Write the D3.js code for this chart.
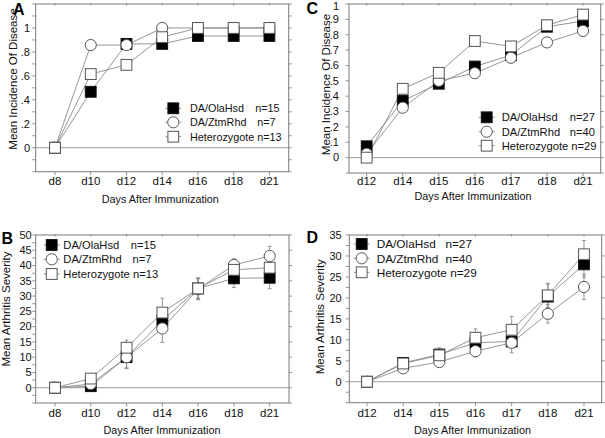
<!DOCTYPE html>
<html><head><meta charset="utf-8">
<script src="https://cdn.jsdelivr.net/npm/d3@7"></script>
<style>
html,body{margin:0;padding:0;background:#fff;}
svg{display:block;font-family:"Liberation Sans",Arial,Helvetica,sans-serif;}
</style></head>
<body>
<svg id="chart" width="605" height="438"></svg>
<script>
// ---- data ----
const daysAB = ["d8","d10","d12","d14","d16","d18","d21"];
const daysCD = ["d12","d14","d15","d16","d17","d18","d21"];
const seriesNames = ["DA/OlaHsd","DA/ZtmRhd","Heterozygote"];
const nAB = ["n=15","n=7","n=13"];
const nCD = ["n=27","n=40","n=29"];

// A: incidence
const incA_Ola = [0, 0.467, 0.867, 0.867, 0.933, 0.933, 0.933];
const incA_Ztm = [0, 0.857, 0.857, 1, 1, 1, 1];
const incA_Het = [0, 0.615, 0.692, 0.923, 1, 1, 1];
// C: incidence
const incC_Ola = [0.074, 0.370, 0.481, 0.593, 0.667, 0.852, 0.889];
const incC_Ztm = [0.025, 0.325, 0.500, 0.550, 0.650, 0.750, 0.825];
const incC_Het = [0, 0.448, 0.552, 0.759, 0.724, 0.862, 0.931];
// B: severity (mean, sem)
const sevB_Ola = [0, 0.5, 10, 22, 32.5, 35.8, 36];
const sevB_Ztm = [0, 1.2, 10, 19.4, 32.3, 40.2, 43.1];
const sevB_Het = [0, 3.0, 13.1, 24.6, 32.5, 38.6, 39.3];
const errB_Ola = [0, 0.5, 3.5, 4, 3.5, 3, 3.6];
const errB_Ztm = [0, 1, 3.7, 4.6, 3.5, 2, 3.2];
const errB_Het = [0, 1, 2.5, 4.7, 3.2, 2.5, 2];
// D: severity (mean, sem)
const sevD_Ola = [0, 4.5, 6.5, 9.3, 9.6, 20.3, 28];
const sevD_Ztm = [0, 3.2, 4.7, 7.3, 9.3, 16.2, 22.6];
const sevD_Het = [0, 4.35, 6.3, 10.5, 12.4, 20.6, 30.4];
const errD_Ola = [0, 0.6, 1.2, 1.5, 1.5, 3, 3];
const errD_Ztm = [0, 0.5, 0.8, 1.4, 2.4, 2.2, 3];
const errD_Het = [0, 0.6, 1.8, 2.1, 3.2, 2.9, 3.3];

const ticksInc = [0, .2, .4, .6, .8, 1];
const ticksIncC = [0, .1, .2, .3, .4, .5, .6, .7, .8, .9, 1];
const ticksSevB = [0, 5, 10, 15, 20, 25, 30, 35, 40, 45, 50];
const ticksSevD = [0, 5, 10, 15, 20, 25, 30, 35];

// ---- layout ----
const fracFmt = d => d === 0 ? "0" : d === 1 ? "1" : d3.format(".1f")(d).replace(/^0/, "");
const panels = [
  {letter:"A", lx:13, ly:15, frame:[35.7,288.7,4,171.7], domain:[-0.2,1.2], cats:daysAB, pad:0.54,
   vals:[incA_Ola,incA_Ztm,incA_Het], errs:null, ticks:ticksInc, minor:0.1, rtick:0.1,
   fmt:fracFmt, labGap:5.7,
   yTitle:"Mean Incidence Of Disease", ytx:16.5, yty:79, xtx:160.3, xty:203, xlab:185,
   leg:{mx:173.3, rows:[108.3,122.3,136.7], tx:190, nx:[279.5,275.5], fs:10.8, n:nAB}},
  {letter:"B", lx:1.5, ly:243.5, frame:[35.7,289,235,403], domain:[-5,50], cats:daysAB, pad:0.54,
   vals:[sevB_Ola,sevB_Ztm,sevB_Het], errs:[errB_Ola,errB_Ztm,errB_Het], ticks:ticksSevB, minor:2.5, rtick:5,
   fmt:d=>String(d), labGap:4,
   yTitle:"Mean Arthritis Severity", ytx:10, yty:309, xtx:162, xty:434, xlab:416.5,
   leg:{mx:51.7, rows:[245,259.3,274], tx:63.3, nx:[156,151.5], fs:11.2, n:nAB}},
  {letter:"C", lx:306.5, ly:13.5, frame:[349,600.7,4,173], domain:[-0.1,1.0], cats:daysCD, pad:0.49,
   vals:[incC_Ola,incC_Ztm,incC_Het], errs:null, ticks:ticksIncC, minor:0.1, rtick:0.1,
   fmt:fracFmt, labGap:10,
   yTitle:"Mean Incidence Of Disease", ytx:329.5, yty:84.5, xtx:473, xty:200, xlab:185,
   leg:{mx:486.7, rows:[117.3,131.7,145.7], tx:501.7, nx:[595,595], fs:11.2, n:nCD}},
  {letter:"D", lx:306.5, ly:243, frame:[349.3,601.7,235,402.7], domain:[-5,35], cats:daysCD, pad:0.49,
   vals:[sevD_Ola,sevD_Ztm,sevD_Het], errs:[errD_Ola,errD_Ztm,errD_Het], ticks:ticksSevD, minor:2.5, rtick:5,
   fmt:d=>String(d), labGap:7.6,
   yTitle:"Mean Arthritis Severity", ytx:323.5, yty:316.7, xtx:472.5, xty:434, xlab:417,
   leg:{mx:361.7, rows:[244,258.3,272.3], tx:376.7, nx:[472,472], fs:11.8, n:nCD}}
];

const svg = d3.select("#chart");
const frameCol = "#7a7a7a", lineCol = "#8a8a8a", markStroke = "#555", fs = 11;

function marker(g, type, x, y) {
  if (type === 1) {
    g.append("circle").attr("cx", x).attr("cy", y).attr("r", 5.6)
      .attr("fill", "#fff").attr("stroke", markStroke).attr("stroke-width", 1);
  } else {
    g.append("rect").attr("x", x - 5.4).attr("y", y - 5.4).attr("width", 10.8).attr("height", 10.8)
      .attr("fill", type === 0 ? "#000" : "#fff").attr("stroke", type === 0 ? "#111" : markStroke).attr("stroke-width", 1);
  }
}

panels.forEach(p => {
  const [x0, x1, y0, y1] = p.frame;
  const x = d3.scalePoint().domain(p.cats).range([x0, x1]).padding(p.pad);
  const y = d3.scaleLinear().domain(p.domain).range([y1, y0]);
  const g = svg.append("g");

  // left ticks (outward)
  const allMinor = d3.range(p.domain[0], p.domain[1] + 1e-9, p.minor);
  g.selectAll(null).data(allMinor).join("line")
    .attr("x1", x0 - 3.5).attr("x2", x0).attr("y1", d => y(d)).attr("y2", d => y(d))
    .attr("stroke", frameCol).attr("stroke-width", 0.8);
  // right ticks (outward)
  const rt = d3.range(p.domain[0], p.domain[1] + 1e-9, p.rtick);
  g.selectAll(null).data(rt).join("line")
    .attr("x1", x1).attr("x2", x1 + 3).attr("y1", d => y(d)).attr("y2", d => y(d))
    .attr("stroke", frameCol).attr("stroke-width", 0.8);
  // bottom ticks (outward), top ticks (small)
  g.selectAll(null).data(p.cats).join("line")
    .attr("x1", d => x(d)).attr("x2", d => x(d)).attr("y1", y1).attr("y2", y1 + 3.5)
    .attr("stroke", frameCol).attr("stroke-width", 0.8);
  g.selectAll(null).data(p.cats).join("line")
    .attr("x1", d => x(d)).attr("x2", d => x(d)).attr("y1", y0 - 1).attr("y2", y0 + 1.5)
    .attr("stroke", frameCol).attr("stroke-width", 0.8);

  // frame
  g.append("rect").attr("x", x0).attr("y", y0).attr("width", x1 - x0).attr("height", y1 - y0)
    .attr("fill", "none").attr("stroke", frameCol).attr("stroke-width", 1);
  // zero line
  g.append("line").attr("x1", x0).attr("x2", x1).attr("y1", y(0)).attr("y2", y(0))
    .attr("stroke", "#9a9a9a").attr("stroke-width", 1);

  // y labels
  g.selectAll(null).data(p.ticks).join("text")
    .attr("x", x0 - p.labGap).attr("y", d => Math.max(y(d), 6.4)).attr("dy", "0.35em")
    .attr("text-anchor", "end").attr("font-size", fs).attr("fill", "#111").text(p.fmt);
  // x labels
  g.selectAll(null).data(p.cats).join("text")
    .attr("x", d => x(d)).attr("y", p.xlab).attr("text-anchor", "middle")
    .attr("font-size", fs + 0.5).attr("fill", "#111").text(d => d);

  // titles
  g.append("text").attr("x", p.xtx).attr("y", p.xty).attr("text-anchor", "middle")
    .attr("font-size", 10.8).attr("fill", "#111").text("Days After Immunization");
  g.append("text").attr("transform", `translate(${p.ytx},${p.yty}) rotate(-90)`)
    .attr("text-anchor", "middle").attr("font-size", 11.5).attr("fill", "#111").text(p.yTitle);
  g.append("text").attr("x", p.lx).attr("y", p.ly).attr("font-size", 16).attr("font-weight", "bold")
    .attr("fill", "#000").text(p.letter);

  // lines
  const ln = d3.line().x((d, i) => x(p.cats[i])).y(d => y(d));
  p.vals.forEach(v => {
    g.append("path").attr("d", ln(v)).attr("fill", "none").attr("stroke", lineCol).attr("stroke-width", 0.9);
  });
  // error bars
  if (p.errs) {
    p.vals.forEach((v, si) => {
      v.forEach((m, i) => {
        const e = p.errs[si][i];
        if (!e) return;
        const cx = x(p.cats[i]);
        g.append("line").attr("x1", cx).attr("x2", cx).attr("y1", y(m - e)).attr("y2", y(m + e))
          .attr("stroke", lineCol).attr("stroke-width", 0.9);
        [m - e, m + e].forEach(t => g.append("line").attr("x1", cx - 2).attr("x2", cx + 2)
          .attr("y1", y(t)).attr("y2", y(t)).attr("stroke", lineCol).attr("stroke-width", 0.9));
      });
    });
  }
  // markers
  p.vals.forEach((v, si) => v.forEach((m, i) => marker(g, si, x(p.cats[i]), y(m))));

  // legend
  const L = p.leg;
  L.rows.forEach((ry, si) => {
    g.append("line").attr("x1", L.mx - 8).attr("x2", L.mx + 8).attr("y1", ry).attr("y2", ry)
      .attr("stroke", lineCol).attr("stroke-width", 0.9);
    marker(g, si, L.mx, ry);
    if (si < 2) {
      g.append("text").attr("x", L.tx).attr("y", ry).attr("dy", "0.36em").attr("font-size", L.fs)
        .attr("fill", "#111").text(seriesNames[si]);
      g.append("text").attr("x", L.nx[si]).attr("y", ry).attr("dy", "0.36em").attr("font-size", L.fs)
        .attr("text-anchor", "end").attr("fill", "#111").text(L.n[si]);
    } else {
      g.append("text").attr("x", L.tx).attr("y", ry).attr("dy", "0.36em").attr("font-size", L.fs)
        .attr("fill", "#111").text(seriesNames[si] + " " + L.n[si]);
    }
  });
});
</script>
</body></html>
